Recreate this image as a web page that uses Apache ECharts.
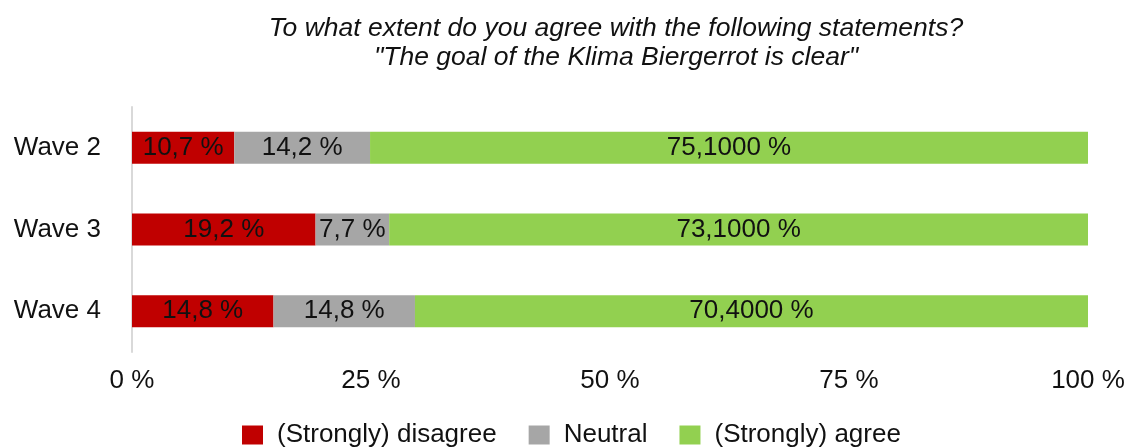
<!DOCTYPE html>
<html>
<head>
<meta charset="utf-8">
<script src="https://cdn.jsdelivr.net/npm/echarts@6/dist/echarts.min.js"></script>
<style>
    html, body { margin: 0; padding: 0; background: #fff; }
    #chart { width: 1129px; height: 448px; }
</style>
</head>
<body>
<div id="chart"></div>
<script>
const waves = ['Wave 2', 'Wave 3', 'Wave 4'];
const seriesNames = ['(Strongly) disagree', 'Neutral', '(Strongly) agree'];
const disagree = [10.7, 19.2, 14.8];
const neutral = [14.2, 7.7, 14.8];
const agree = [75.1, 73.1, 70.4];
const labelDecimals = [1, 1, 4]; // the agree labels show four decimals in the original
const xTicks = [0, 25, 50, 75, 100];
const colors = ['#C00000', '#A6A6A6', '#92D050'];

const FONT = '"Liberation Sans", Arial, Helvetica, sans-serif';
const chart = echarts.init(document.getElementById('chart'), null, { renderer: 'canvas' });

const fmt = (v, d) => v.toFixed(d).replace('.', ',') + ' %';

const option = {
    animation: false,
    title: {
        text: 'To what extent do you agree with the following statements?\n"The goal of the Klima Biergerrot is clear"',
        left: 611,
        textAlign: 'center',
        top: 9,
        textStyle: {
            fontFamily: FONT,
            fontStyle: 'italic',
            fontWeight: 'normal',
            fontSize: 26.5,
            lineHeight: 29,
            color: '#111'
        }
    },
    legend: {
        left: 237,
        top: 417,
        itemWidth: 21,
        itemHeight: 19,
        itemGap: 32,
        icon: 'rect',
        textStyle: {
            fontFamily: FONT,
            fontSize: 26,
            color: '#111',
            padding: [0, 0, 0, 9]
        },
        data: seriesNames
    },
    grid: {
        left: 132,
        right: 41,
        top: 107,
        bottom: 96
    },
    xAxis: {
        type: 'value',
        min: 0,
        max: 100,
        interval: 25,
        splitLine: { show: false },
        axisLine: { show: false },
        axisTick: { show: false },
        axisLabel: {
            margin: 16,
            fontFamily: FONT,
            fontSize: 26,
            color: '#111',
            customValues: xTicks,
            formatter: v => v + ' %'
        }
    },
    yAxis: {
        type: 'category',
        inverse: true,
        data: waves,
        axisLine: { show: true, lineStyle: { color: '#d9d9d9', width: 2 } },
        axisTick: { show: false },
        axisLabel: {
            margin: 31,
            fontFamily: FONT,
            fontSize: 26,
            color: '#111'
        }
    },
    series: [disagree, neutral, agree].map((vals, i) => ({
        name: seriesNames[i],
        type: 'bar',
        stack: 'total',
        barWidth: 32,
        data: vals,
        itemStyle: { color: colors[i] },
        label: {
            show: true,
            position: 'inside',
            fontFamily: FONT,
            fontSize: 26,
            color: '#111',
            formatter: p => fmt(p.value, labelDecimals[i])
        }
    }))
};

chart.setOption(option);
</script>
</body>
</html>
